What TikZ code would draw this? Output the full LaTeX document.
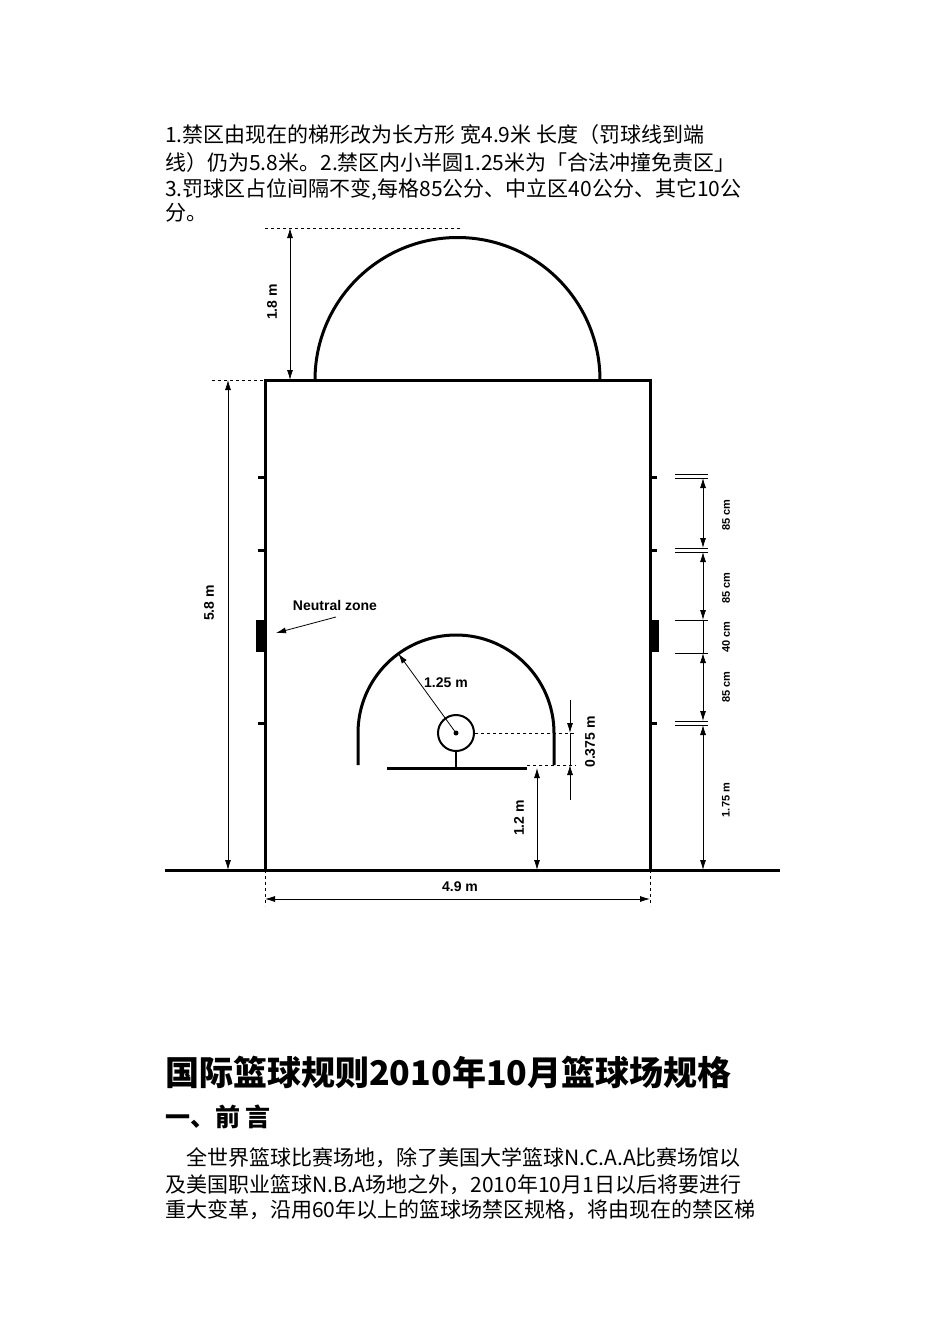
\documentclass[tikz,border=0pt]{standalone}
\usepackage{fontspec}
\setmainfont{Liberation Sans}
\newfontfamily\cjk{Noto Sans CJK SC}
\usetikzlibrary{arrows.meta}
\begin{document}
\begin{tikzpicture}[x=1pt,y=-1pt,
  court/.style={line width=3pt},
  dim/.style={line width=0.8pt,{Latex[length=10pt,width=6pt]}-{Latex[length=10pt,width=6pt]}},
  one/.style={line width=0.8pt,-{Latex[length=10pt,width=6pt]}},
  dsh/.style={dashed,line width=0.7pt},
  thin/.style={line width=0.7pt},
  lab/.style={font=\bfseries\fontsize{14}{14}\selectfont},
  small/.style={font=\bfseries\fontsize{11}{11}\selectfont},
  txt/.style={anchor=west,inner sep=0,font=\cjk\fontsize{21}{21}\selectfont}]
\useasboundingbox (0,0) rectangle (950,1344);
\fill[white] (0,0) rectangle (950,1344);
% texts
\node[txt] (t1) at (165,135) {1.禁区由现在的梯形改为长方形 宽4.9米 长度（罚球线到端};
\node[txt] (t2) at (165,163) {线）仍为5.8米。2.禁区内小半圆1.25米为「合法冲撞免责区」};
\node[txt] (t3) at (165,190) {3.罚球区占位间隔不变,每格85公分、中立区40公分、其它10公};
\node[txt] (t4) at (165,213) {分。};
% court
\coordinate (tl) at (265,380); \coordinate (br) at (650,870);
\draw[court] (265,870) -- (tl) -- (650,380) -- (br);
\draw[court] (165,870) -- (780,870);
\draw[court] (315,380) arc[start angle=180,end angle=360,radius=142.5];
% ticks
\foreach \y in {477,550,723}{\draw[court] (258,\y)--(265,\y); \draw[court] (650,\y)--(657,\y);}
\fill (256,620) rectangle (265,652); \fill (650,620) rectangle (659,652);
% 1.8 m
\draw[dsh] (265,228) -- (460,228);
\draw[dsh] (212,380) -- (265,380);
\coordinate (a1) at (290,228); \coordinate (a2) at (290,380);
\draw[dim] (a1) -- (a2);
\node[lab,rotate=90] (l18) at (272,302) {1.8 m};
% 5.8 m
\coordinate (b1) at (228,380); \coordinate (b2) at (228,870);
\draw[dim] (b1) -- (b2);
\node[lab,rotate=90] (l58) at (209,603) {5.8 m};
% right dims
\foreach \y in {474,478,548,552,721,725}{\draw[thin] (675,\y)--(708,\y);}
\draw[thin] (675,620)--(708,620); \draw[thin] (675,653)--(708,653);
\draw[dim] (703,478) -- (703,548);
\draw[dim] (703,552) -- (703,620);
\draw[thin] (703,620) -- (703,653);
\draw[dim] (703,653) -- (703,721);
\draw[dim] (703,725) -- (703,870);
\node[small,rotate=90] (r1) at (726,515) {85 cm};
\node[small,rotate=90] (r2) at (726,588) {85 cm};
\node[small,rotate=90] (r3) at (726,637) {40 cm};
\node[small,rotate=90] (r4) at (726,687) {85 cm};
\node[small,rotate=90] (r5) at (726,800) {1.75 m};
% neutral zone
\node[lab] (nz) at (335,605) {Neutral zone};
\coordinate (nzt) at (276,633);
\draw[one] (336,617) -- (nzt);
% restricted arc
\draw[court] (358,765) -- (358,733) arc[start angle=180,end angle=360,radius=98] -- (554,765);
\node[circle,draw,line width=2pt,minimum size=36pt,inner sep=0] (ring) at (456,733) {};
\fill (456,733) circle (2.5pt);
\draw[court] (387,768) -- (527,768);
\draw[line width=2pt] (ring.south) -- (456,768);
\draw[one] (456,733) -- ++(-126:98);
\node[lab] (l125) at (446,683) {1.25 m};
% 0.375
\draw[dsh] (ring.east) -- (576,733);
\draw[dsh] (527,765) -- (576,765);
\draw[one] (570,700) -- (570,733);
\draw[one] (570,800) -- (570,765);
\draw[thin] (570,733)--(570,765);
\node[lab,rotate=90] (l0375) at (590,742) {0.375 m};
% 1.2 m
\draw[dim] (537,768) -- (537,870);
\node[lab,rotate=90] (l12) at (519,818) {1.2 m};
% 4.9 m
\draw[dsh] (265,870) -- (265,906); \draw[dsh] (650,870) -- (650,906);
\draw[dim] (265,899) -- (650,899);
\node[lab] (l49) at (460,887) {4.9 m};
% bottom text
\node[txt,font=\cjk\bfseries\fontsize{34}{34}\selectfont] (title) at (165,1072) {国际篮球规则2010年10月篮球场规格};
\node[txt,font=\cjk\bfseries\fontsize{25}{25}\selectfont] (h1) at (165,1117) {一、前\ 言};
\node[txt] (p1) at (165,1158) {\hspace{21pt}全世界篮球比赛场地，除了美国大学篮球N.C.A.A比赛场馆以};
\node[txt] (p2) at (165,1185) {及美国职业篮球N.B.A场地之外，2010年10月1日以后将要进行};
\node[txt] (p3) at (165,1210) {重大变革，沿用60年以上的篮球场禁区规格，将由现在的禁区梯};
\end{tikzpicture}
\end{document}
